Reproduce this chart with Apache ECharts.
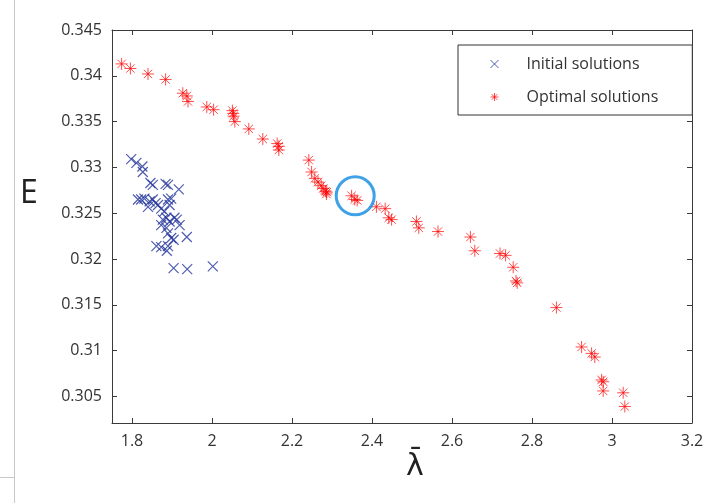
<!DOCTYPE html>
<html lang="en" style="height: 100%">
<head>
<meta charset="utf-8">
<title>Initial vs optimal solutions</title>
</head>
<body style="height: 100%; margin: 0; background: #fff">
<div id="container" style="height: 100%"></div>

<script type="text/javascript" src="https://cdn.jsdelivr.net/npm/echarts@6/dist/echarts.min.js"></script>

<script type="text/javascript">

// [lambda, E]
var initialSolutions = [
    [1.798, 0.3309], [1.811, 0.3305], [1.826, 0.3301], [1.827, 0.3295],
    [1.846, 0.3283], [1.852, 0.3281], [1.884, 0.3282], [1.890, 0.3281],
    [1.917, 0.3276], [1.815, 0.3265], [1.823, 0.3265], [1.831, 0.3266],
    [1.840, 0.3257], [1.844, 0.3263], [1.852, 0.3265], [1.859, 0.3261],
    [1.865, 0.3259], [1.873, 0.3255], [1.881, 0.3252], [1.890, 0.3265],
    [1.898, 0.3266], [1.894, 0.3259], [1.877, 0.3243], [1.886, 0.3245],
    [1.894, 0.3241], [1.906, 0.3245], [1.912, 0.3243], [1.919, 0.3237],
    [1.873, 0.3237], [1.886, 0.3234], [1.890, 0.3228], [1.898, 0.3223],
    [1.904, 0.3221], [1.937, 0.3224], [1.861, 0.3214], [1.873, 0.3213],
    [1.887, 0.3209], [1.890, 0.3214], [1.904, 0.3190], [1.938, 0.3189],
    [2.002, 0.3192]
];

var optimalSolutions = [
    [1.774, 0.3413], [1.796, 0.3408], [1.840, 0.3402], [1.884, 0.3396],
    [1.927, 0.3381], [1.937, 0.3378], [1.940, 0.3372], [1.987, 0.3366],
    [2.004, 0.3363], [2.051, 0.3362], [2.053, 0.3359], [2.054, 0.3356],
    [2.057, 0.3350], [2.092, 0.3342], [2.127, 0.3331], [2.163, 0.3326],
    [2.167, 0.3323], [2.167, 0.3319], [2.242, 0.3308], [2.249, 0.3295],
    [2.257, 0.3288], [2.265, 0.3284], [2.273, 0.3280], [2.278, 0.3277],
    [2.284, 0.3274], [2.286, 0.3271], [2.287, 0.3273], [2.349, 0.3269],
    [2.357, 0.3265], [2.363, 0.3264], [2.411, 0.3257], [2.433, 0.3255],
    [2.442, 0.3245], [2.449, 0.3243], [2.511, 0.3241], [2.517, 0.3234],
    [2.565, 0.3230], [2.646, 0.3224], [2.657, 0.3209], [2.720, 0.3206],
    [2.734, 0.3204], [2.753, 0.3191], [2.760, 0.3176], [2.763, 0.3174],
    [2.861, 0.3147], [2.924, 0.3104], [2.949, 0.3097], [2.957, 0.3093],
    [2.974, 0.3068], [2.978, 0.3066], [2.978, 0.3056], [3.028, 0.3054],
    [3.032, 0.3039]
];

// the circled solution
var highlighted = [[2.358, 0.3269]];

var xTicks = [1.8, 2, 2.2, 2.4, 2.6, 2.8, 3, 3.2];
var yTicks = [0.305, 0.31, 0.315, 0.32, 0.325, 0.33, 0.335, 0.34, 0.345];
var xRange = [1.75, 3.2];
var yRange = [0.3021, 0.345];

var crossPath = 'path://M0,0L10,10M10,0L0,10';
var starPath = 'path://M5,0L5,10M0,5L10,5M1.5,1.5L8.5,8.5M8.5,1.5L1.5,8.5';
var font = '"Open Sans", sans-serif';
var axisColor = '#3a3a3a';

var dom = document.getElementById('container');
var myChart = echarts.init(dom);

function boxAxis(ticks, fmt, showLabel) {
    return {
        type: 'value',
        axisLine: { show: true, onZero: false, lineStyle: { color: axisColor, width: 1 } },
        axisTick: { show: true, inside: true, length: 5, customValues: ticks, lineStyle: { color: axisColor } },
        axisLabel: {
            show: showLabel, customValues: ticks, formatter: fmt,
            color: '#333', fontFamily: font, fontSize: 16
        },
        splitLine: { show: false }
    };
}

var xFmt = function (v) { return String(+v.toFixed(1)); };
var yFmt = function (v) { return String(+v.toFixed(3)); };

var xBottom = boxAxis(xTicks, xFmt, true);
xBottom.min = xRange[0]; xBottom.max = xRange[1]; xBottom.position = 'bottom';
xBottom.axisLabel.margin = 10;
var xTop = boxAxis(xTicks, xFmt, false);
xTop.min = xRange[0]; xTop.max = xRange[1]; xTop.position = 'top';
var yLeft = boxAxis(yTicks, yFmt, true);
yLeft.min = yRange[0]; yLeft.max = yRange[1]; yLeft.position = 'left';
yLeft.axisLabel.margin = 10;
var yRight = boxAxis(yTicks, yFmt, false);
yRight.min = yRange[0]; yRight.max = yRange[1]; yRight.position = 'right';

var option = {
    backgroundColor: '#fff',
    animation: false,
    grid: { left: 112, right: 31, top: 30, bottom: 80 },
    xAxis: [xBottom, xTop],
    yAxis: [yLeft, yRight],
    legend: {
        data: ['Initial solutions', 'Optimal solutions'],
        orient: 'vertical',
        left: 458,
        top: 45,
        padding: [11, 34, 10, 32],
        itemWidth: 54,
        itemHeight: 8,
        itemGap: 17,
        borderColor: '#333',
        borderWidth: 1,
        backgroundColor: '#fff',
        textStyle: { fontFamily: font, fontSize: 16, color: '#333' },
        itemStyle: { borderWidth: 1 }
    },
    graphic: [
        { type: 'line', shape: { x1: 14.5, y1: 0, x2: 14.5, y2: 503 }, style: { stroke: '#c8c8c8', lineWidth: 1 } },
        { type: 'line', shape: { x1: 0, y1: 477.5, x2: 14.5, y2: 477.5 }, style: { stroke: '#c8c8c8', lineWidth: 1 } },
        { type: 'text', left: 20, top: 178, style: { text: 'E', fontFamily: font, fontSize: 32, fill: '#222' } },
        { type: 'text', left: 406, top: 452, style: { text: '\u03bb\u0304', fontFamily: '"DejaVu Sans", sans-serif', fontSize: 30, fill: '#222' } }
    ],
    series: [
        {
            name: 'Initial solutions',
            type: 'scatter',
            data: initialSolutions,
            symbol: crossPath,
            symbolSize: 10,
            symbolKeepAspect: true,
            itemStyle: { color: 'rgba(0,0,0,0)', borderColor: '#23359a', borderWidth: 1.2, opacity: 0.8 }
        },
        {
            name: 'Optimal solutions',
            type: 'scatter',
            data: optimalSolutions,
            symbol: starPath,
            symbolSize: 12,
            symbolKeepAspect: true,
            itemStyle: { color: 'rgba(0,0,0,0)', borderColor: '#ff0000', borderWidth: 1, opacity: 0.7 }
        },
        {
            name: 'highlight',
            type: 'scatter',
            data: highlighted,
            symbol: 'circle',
            symbolSize: 38,
            silent: true,
            itemStyle: { color: 'rgba(0,0,0,0)', borderColor: '#0f8ae0', borderWidth: 3 }
        }
    ]
};

if (option && typeof option === 'object') {
    myChart.setOption(option);
}

window.addEventListener('resize', myChart.resize);
</script>
</body>
</html>
